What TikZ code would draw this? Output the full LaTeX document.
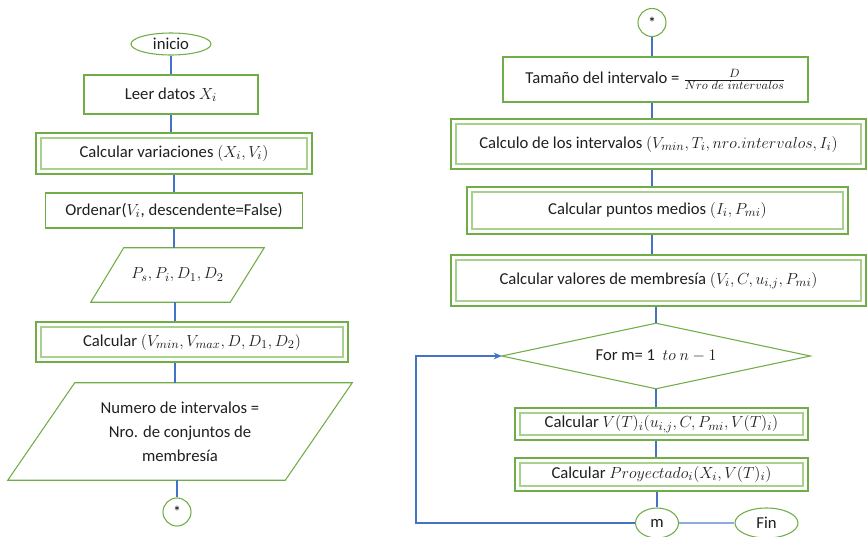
\documentclass[tikz,border=0pt]{standalone}
\usepackage{fontspec}
\setmainfont{Carlito}
\usetikzlibrary{arrows.meta,calc,shapes.geometric}
\definecolor{gr}{HTML}{70AD47}
\definecolor{lgr}{HTML}{A9D18E}
\definecolor{bl}{HTML}{4472C4}
\definecolor{lbl}{HTML}{8FAADC}
\begin{document}
\begin{tikzpicture}[x=0.75pt,y=-0.75pt,
  txt/.style={font=\fontsize{12.5pt}{18pt}\selectfont, text=black!88, align=center, inner sep=0pt},
  sz/.style 2 args={minimum width=#1*0.75pt, minimum height=#2*0.75pt},
  box/.style={txt, draw=gr, line width=0.8pt, rectangle},
  dbox/.style={box, path picture={\draw[lgr,line width=1.6pt] ([shift={(3.8pt,-3.8pt)}]path picture bounding box.north west) rectangle ([shift={(-3.8pt,3.8pt)}]path picture bounding box.south east);}},
  ell/.style={txt, draw=gr, line width=0.8pt, ellipse},
  starc/.style={circle, draw=gr, line width=0.8pt, minimum size=28*0.75pt, inner sep=0pt, font=\fontsize{12pt}{14pt}\selectfont},
  conn/.style={draw=bl, line width=1.5pt},
  shp/.style={draw=gr, line width=0.8pt}]
\useasboundingbox (0,0) rectangle (868,536);
% ---------- left column ----------
\node[ell, sz={80}{22}] (inicio) at (171,44) {inicio};
\node[box, sz={174}{39}] (leer) at (171,94.5) {Leer datos $X_i$};
\node[dbox, sz={276}{41}] (var) at (174,153.5) {Calcular variaciones $(X_i, V_i)$};
\node[box, sz={257}{35}] (ord) at (174,210.5) {Ordenar($V_i$, descendente=False)};
\node[txt, sz={173}{54}] (ps) at (177.5,275) {$P_s, P_i, D_1, D_2$};
\draw[shp] ($(ps.north west)+(33,0)$) -- (ps.north east) -- ($(ps.south east)+(-34,0)$) -- (ps.south west) -- cycle;
\node[dbox, sz={312}{40}] (calc) at (192,342) {Calcular $(V_{min}, V_{max}, D, D_1, D_2)$};
\node[txt, sz={344}{97}] (num) at (180,431.5) {Numero de intervalos =\\Nro. de conjuntos de\\membresía};
\draw[shp] ($(num.north west)+(67,0)$) -- (num.north east) -- ($(num.south east)+(-67,0)$) -- (num.south west) -- cycle;
\node[starc] (starL) at (177,512) {*};
\coordinate (colL) at (175,0);
\draw[conn] (inicio.south) -- (inicio.south |- leer.north);
\draw[conn] (leer.south) -- (leer.south |- var.north);
\draw[conn] (ord.north |- var.south) -- (ord.north);
\draw[conn] (ord.south) -- (ord.south |- ps.north);
\draw[conn] (colL |- ps.south) -- (colL |- calc.north);
\draw[conn] (colL |- calc.south) -- (colL |- num.north);
\draw[conn] (starL.north |- num.south) -- (starL.north);
% ---------- right column ----------
\node[starc] (starR) at (652,22.5) {*};
\node[box, sz={305}{45}] (tam) at (655.5,79.5) {Tamaño del intervalo = $\frac{D}{Nro\ de\ intervalos}$};
\node[dbox, sz={415}{50}] (intv) at (658.5,144) {Calculo de los intervalos $(V_{min}, T_i, nro.intervalos, I_i)$};
\node[dbox, sz={381}{47}] (pm) at (657.5,210.5) {Calcular puntos medios $(I_i, P_{mi})$};
\node[dbox, sz={415}{51}] (val) at (658.5,280.5) {Calcular valores de membresía $(V_i, C, u_{i,j}, P_{mi})$};
\node[txt, sz={308}{65}] (for) at (656,356) {For m= 1 \ $to\ n-1$};
\draw[shp] (for.north) -- (for.east) -- (for.south) -- (for.west) -- cycle;
\node[dbox, sz={293}{32}] (vt) at (661.5,424) {Calcular $V(T)_i(u_{i,j}, C, P_{mi}, V(T)_i)$};
\node[dbox, sz={293}{33}] (proy) at (661.5,474.5) {Calcular $Proyectado_i(X_i, V(T)_i)$};
\node[ell, sz={43}{30}] (m) at (657,523) {m};
\node[ell, sz={63}{30}] (fin) at (766.5,523) {Fin};
\coordinate (loopc) at (416,356);
\draw[conn] (starR.south) -- (starR.south |- tam.north);
\draw[conn] (starR |- tam.south) -- (starR |- intv.north);
\draw[conn] (starR |- intv.south) -- (starR |- pm.north);
\draw[conn] (starR |- pm.south) -- (starR |- val.north);
\draw[conn] (for.north |- val.south) -- (for.north);
\draw[conn] (for.south) -- (for.south |- vt.north);
\draw[conn] (for.south |- vt.south) -- (for.south |- proy.north);
\draw[conn] (m.north |- proy.south) -- (m.north);
\draw[conn, draw=lbl] (m.east) -- (fin.west);
\draw[conn, -{Stealth[length=6pt,width=5pt]}] (m.west) -| (loopc) -- (for.west);
\end{tikzpicture}
\end{document}
